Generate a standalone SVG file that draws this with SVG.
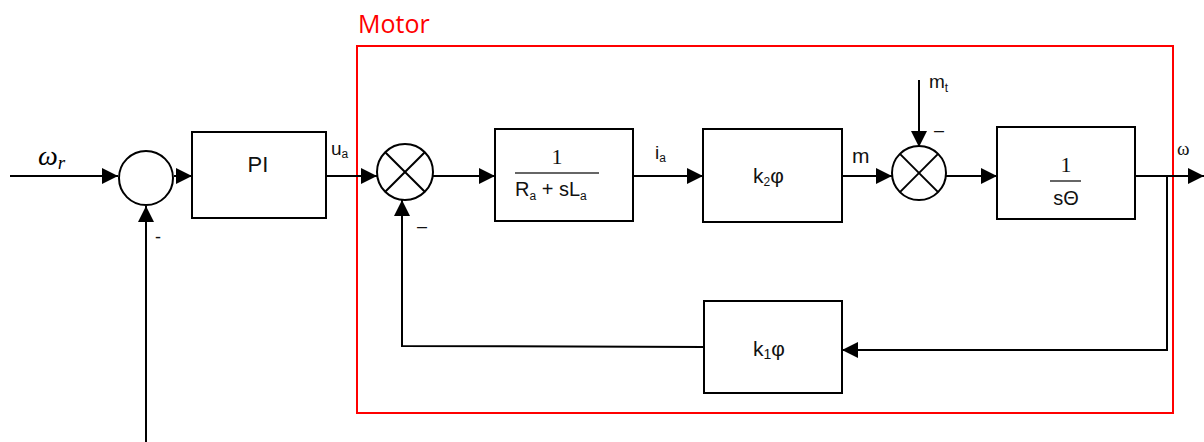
<svg xmlns="http://www.w3.org/2000/svg" width="1204" height="442" viewBox="0 0 1204 442">
<defs>
<style>
.blk{fill:#fff;stroke:#000;stroke-width:2}
.ln{fill:none;stroke:#000;stroke-width:2}
.t{font-family:"Liberation Sans",Arial,sans-serif;fill:#111}
.serif{font-family:"Liberation Serif","Times New Roman",serif;fill:#111}
.sub{font-size:12px}
</style>
<marker id="ar" viewBox="0 0 10 10" refX="10" refY="5" markerWidth="16" markerHeight="16" markerUnits="userSpaceOnUse" orient="auto">
<path d="M0,0 L10,5 L0,10 Z" fill="#000"/>
</marker>
</defs>
<rect width="1204" height="442" fill="#fff"/>

<g id="motor">
<rect x="357" y="46" width="816" height="367" fill="none" stroke="#f00" stroke-width="2"/>
<text x="358" y="33" font-family="'Open Sans','Liberation Sans',sans-serif" font-size="25" fill="#f00">Motor</text>
</g>

<g id="connectors">
<line class="ln" x1="10" y1="176" x2="118" y2="176" marker-end="url(#ar)"/>
<line class="ln" x1="146" y1="442" x2="146" y2="206" marker-end="url(#ar)"/>
<line class="ln" x1="174" y1="176" x2="192" y2="176" marker-end="url(#ar)"/>
<line class="ln" x1="326" y1="176" x2="377" y2="176" marker-end="url(#ar)"/>
<line class="ln" x1="433" y1="176" x2="495" y2="176" marker-end="url(#ar)"/>
<line class="ln" x1="633" y1="176" x2="703" y2="176" marker-end="url(#ar)"/>
<line class="ln" x1="842" y1="176" x2="892" y2="176" marker-end="url(#ar)"/>
<line class="ln" x1="919" y1="80" x2="919" y2="147" marker-end="url(#ar)"/>
<line class="ln" x1="946" y1="176" x2="997" y2="176" marker-end="url(#ar)"/>
<line class="ln" x1="1135" y1="176" x2="1204" y2="176" marker-end="url(#ar)"/>
<polyline class="ln" points="1167,176 1167,350 842,350" marker-end="url(#ar)"/>
<polyline class="ln" points="704,347 402,346 402,200" marker-end="url(#ar)"/>
</g>

<g id="sum1">
<circle cx="146" cy="178" r="27" class="blk"/>
</g>

<g id="pi">
<rect x="192" y="132" width="134" height="86" class="blk" stroke-width="1.5"/>
<text class="t" x="258" y="172" font-size="22" text-anchor="middle">PI</text>
</g>

<g id="mult1">
<circle cx="405" cy="172" r="28" class="blk"/>
<line class="ln" stroke-width="1.5" x1="385.2" y1="152.2" x2="424.8" y2="191.8"/>
<line class="ln" stroke-width="1.5" x1="424.8" y1="152.2" x2="385.2" y2="191.8"/>
</g>

<g id="g-elec">
<rect x="495" y="129" width="138" height="92" class="blk"/>
<text class="serif" x="557" y="164" font-size="22" text-anchor="middle">1</text>
<line x1="515" y1="173" x2="599" y2="173" stroke="#333" stroke-width="1.5"/>
<text class="t" x="515" y="196" font-size="20">R<tspan class="sub" dy="4">a</tspan><tspan dy="-4"> + sL</tspan><tspan class="sub" dy="4">a</tspan></text>
</g>

<g id="k2">
<rect x="703" y="129" width="139" height="93" class="blk"/>
<text class="t" x="753" y="183" font-size="21">k<tspan class="sub" dy="3" font-size="14">2</tspan><tspan dy="-3">φ</tspan></text>
</g>

<g id="mult2">
<circle cx="919" cy="173" r="27" class="blk"/>
<line class="ln" stroke-width="1.5" x1="899.9" y1="153.9" x2="938.1" y2="192.1"/>
<line class="ln" stroke-width="1.5" x1="938.1" y1="153.9" x2="899.9" y2="192.1"/>
</g>

<g id="g-mech">
<rect x="997" y="127" width="138" height="92" class="blk"/>
<text class="serif" x="1066" y="172" font-size="22" text-anchor="middle">1</text>
<line x1="1050" y1="181" x2="1081" y2="181" stroke="#333" stroke-width="1.5"/>
<text class="t" x="1066" y="205" font-size="20" text-anchor="middle">sΘ</text>
</g>

<g id="k1">
<rect x="704" y="301" width="138" height="92" class="blk"/>
<text class="t" x="753" y="356" font-size="21">k<tspan font-size="14" dy="3">1</tspan><tspan dy="-3">φ</tspan></text>
</g>

<g id="labels">
<text x="38" y="165" font-family="'Liberation Serif',serif" font-style="italic" font-size="28" fill="#000">ω<tspan font-size="19" dy="4">r</tspan></text>
<text class="t" x="155" y="243" font-size="18">-</text>
<text class="t" x="331" y="155" font-size="19">u<tspan class="sub" dy="3">a</tspan></text>
<text class="t" x="417" y="232" font-size="18" fill="#555">–</text>
<text class="t" x="655" y="159" font-size="19">i<tspan class="sub" dy="3">a</tspan></text>
<text class="t" x="852" y="163" font-size="21">m</text>
<text class="t" x="929" y="88" font-size="19">m<tspan class="sub" dy="4">t</tspan></text>
<text class="t" x="934" y="136" font-size="18">–</text>
<text class="serif" x="1177" y="155" font-size="19">ω</text>
</g>
</svg>
